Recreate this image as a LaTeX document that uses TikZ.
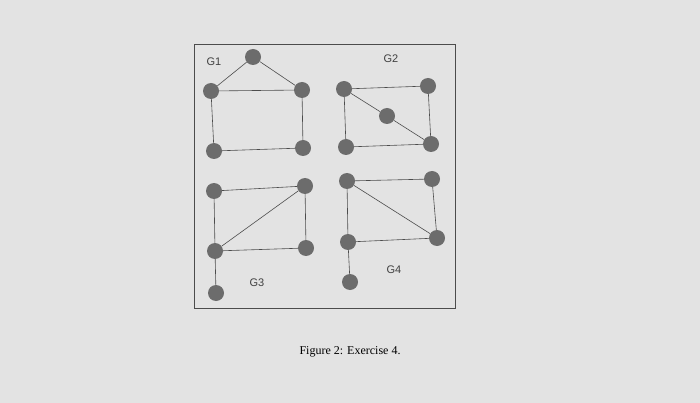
\documentclass[tikz,border=0pt]{standalone}
\usepackage{fontspec}
\setmainfont{Liberation Serif}
\newfontfamily\glabelfont{Liberation Sans}
\begin{document}
\begin{tikzpicture}[x=1pt, y=-1pt,
    vertex/.style = {shape = circle, fill = gray!85!black, minimum size = 16pt, inner sep = 0pt},
    glabel/.style = {font = \glabelfont\fontsize{11}{13}\selectfont, text = black!75},
    ]
    \fill[gray!22] (0,0) rectangle (700,403);
    \useasboundingbox (0,0) rectangle (700,403);
    \draw[black!70, thick] (194,44) rectangle (455,308);
    % G1
    \node[vertex] (a1) at (253,57) {};
    \node[vertex] (a2) at (211,91) {};
    \node[vertex] (a3) at (302,90) {};
    \node[vertex] (a4) at (214,151) {};
    \node[vertex] (a5) at (303,148) {};
    \node[glabel] (g1) at (214,62) {G1};
    % G2
    \node[vertex] (b1) at (344,89) {};
    \node[vertex] (b2) at (428,86) {};
    \node[vertex] (b3) at (387,116) {};
    \node[vertex] (b4) at (346,147) {};
    \node[vertex] (b5) at (431,144) {};
    \node[glabel] (g2) at (391,59) {G2};
    % G3
    \node[vertex] (c1) at (214,191) {};
    \node[vertex] (c2) at (305,186) {};
    \node[vertex] (c3) at (215,251) {};
    \node[vertex] (c4) at (306,248) {};
    \node[vertex] (c5) at (216,293) {};
    \node[glabel] (g3) at (257,283) {G3};
    % G4
    \node[vertex] (d1) at (347,181) {};
    \node[vertex] (d2) at (432,179) {};
    \node[vertex] (d3) at (348,242) {};
    \node[vertex] (d4) at (437,238) {};
    \node[vertex] (d5) at (350,282) {};
    \node[glabel] (g4) at (394,270) {G4};

    \begin{scope}[black!70, semithick]
    \draw (a1) -- (a2) -- (a3) -- (a1);
    \draw (a2) -- (a4) -- (a5) -- (a3);
    \draw (b1) -- (b2) -- (b5) -- (b4) -- (b1);
    \draw (b1) -- (b3) -- (b5);
    \draw (c1) -- (c2) -- (c4) -- (c3) -- (c1);
    \draw (c3) -- (c2);
    \draw (c3) -- (c5);
    \draw (d1) -- (d2) -- (d4) -- (d3) -- (d1);
    \draw (d1) -- (d4);
    \draw (d3) -- (d5);
    \end{scope}

    \node[font = \fontsize{12}{14}\selectfont] (caption) at (350,352) {Figure 2: Exercise 4.};
\end{tikzpicture}
\end{document}
